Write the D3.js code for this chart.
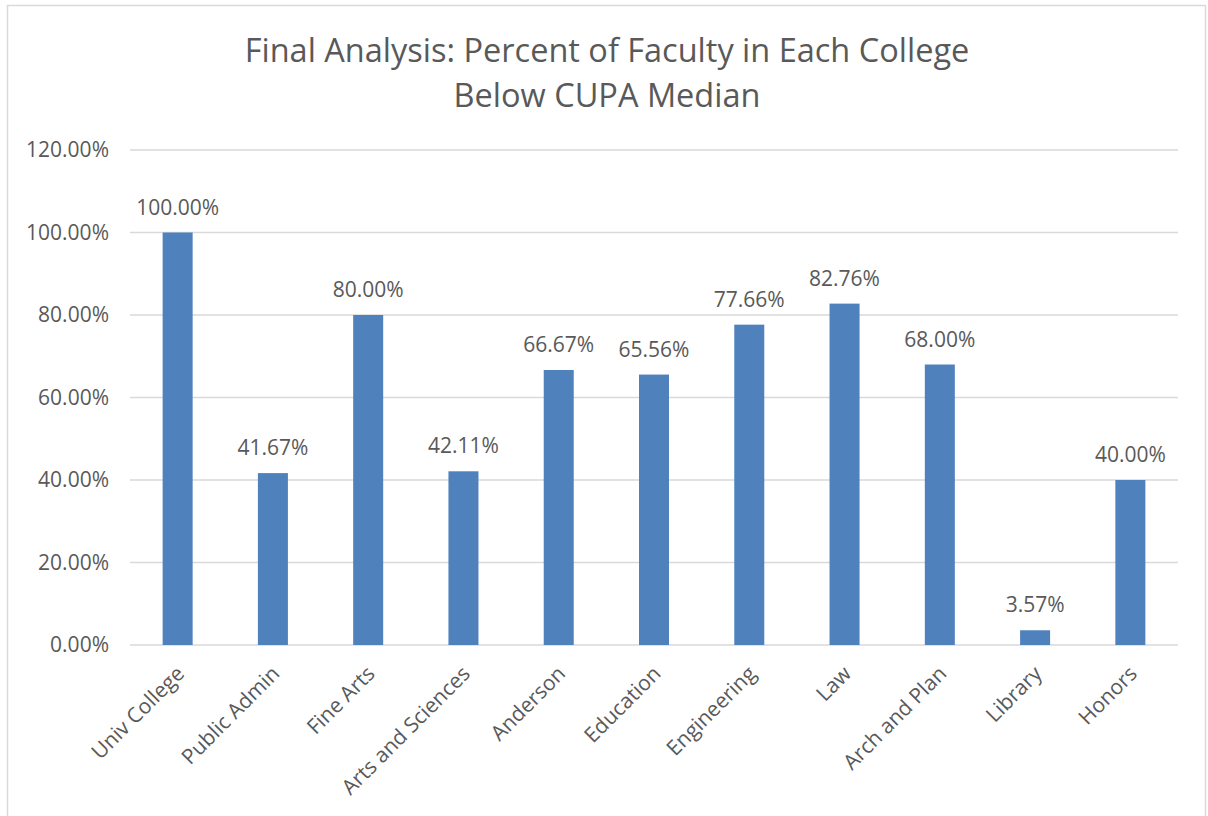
<!DOCTYPE html>
<html>
<head>
<meta charset="utf-8">
<script src="https://cdn.jsdelivr.net/npm/d3@7"></script>
<style>
  body { margin: 0; background: #fff; }
  text { font-family: "Open Sans", "Liberation Sans", sans-serif; fill: #595959; }
</style>
</head>
<body>
<div id="chart"></div>
<script>
const categories = ['Univ College', 'Public Admin', 'Fine Arts', 'Arts and Sciences', 'Anderson',
    'Education', 'Engineering', 'Law', 'Arch and Plan', 'Library', 'Honors'];
const values = [100.00, 41.67, 80.00, 42.11, 66.67, 65.56, 77.66, 82.76, 68.00, 3.57, 40.00];
const yTicks = [0, 20, 40, 60, 80, 100, 120];
const titleLines = ['Final Analysis: Percent of Faculty in Each College', 'Below CUPA Median'];

const W = 1208, H = 816;
const margin = { top: 150, right: 30, bottom: 171, left: 130 };
const width = W - margin.left - margin.right;
const height = H - margin.top - margin.bottom;

const root = d3.select('#chart').append('svg')
    .attr('width', W)
    .attr('height', H);

// chart border
root.append('rect')
    .attr('x', 7.5).attr('y', 5.5)
    .attr('width', 1198).attr('height', 820)
    .attr('fill', '#fff')
    .attr('stroke', '#d9d9d9')
    .attr('stroke-width', 1.5);

root.append('text')
    .attr('x', 607)
    .attr('y', 62)
    .attr('text-anchor', 'middle')
    .style('font-size', '32.5px')
    .selectAll('tspan')
    .data(titleLines)
    .enter()
    .append('tspan')
    .attr('x', 607)
    .attr('dy', (d, i) => i === 0 ? 0 : 45)
    .text(d => d);

const svg = root.append('g')
    .attr('transform', `translate(${margin.left},${margin.top})`);

const x = d3.scaleBand().domain(categories).range([0, width]).paddingInner(0.685).paddingOuter(0.3425);
const y = d3.scaleLinear().domain([0, 120]).range([height, 0]);

// gridlines
svg.append('g')
    .selectAll('line')
    .data(yTicks)
    .enter()
    .append('line')
    .attr('x1', 0).attr('x2', width)
    .attr('y1', d => y(d)).attr('y2', d => y(d))
    .attr('stroke', '#d9d9d9')
    .attr('stroke-width', 1.5);

// y axis labels
const yAxis = svg.append('g')
    .call(d3.axisLeft(y).tickValues(yTicks).tickSize(0).tickPadding(21).tickFormat(d => d.toFixed(2) + '%'));
yAxis.select('.domain').remove();
yAxis.selectAll('text').style('font-size', '21px').attr('fill', '#595959');

// bars
svg.selectAll('.bar')
    .data(values)
    .enter()
    .append('rect')
    .attr('class', 'bar')
    .attr('x', (d, i) => x(categories[i]))
    .attr('y', d => y(d))
    .attr('width', x.bandwidth())
    .attr('height', d => height - y(d))
    .attr('fill', '#4f81bd');

// value labels
svg.selectAll('.label')
    .data(values)
    .enter()
    .append('text')
    .attr('class', 'label')
    .attr('x', (d, i) => x(categories[i]) + x.bandwidth() / 2)
    .attr('y', d => y(d) - 18)
    .attr('text-anchor', 'middle')
    .style('font-size', '21px')
    .text(d => d.toFixed(2) + '%');

// category labels
svg.selectAll('.cat')
    .data(categories)
    .enter()
    .append('text')
    .attr('class', 'cat')
    .attr('text-anchor', 'end')
    .attr('transform', d => `translate(${x(d) + x.bandwidth() / 2 + 8},${height + 30}) rotate(-45)`)
    .style('font-size', '21px')
    .text(d => d);
</script>
</body>
</html>
